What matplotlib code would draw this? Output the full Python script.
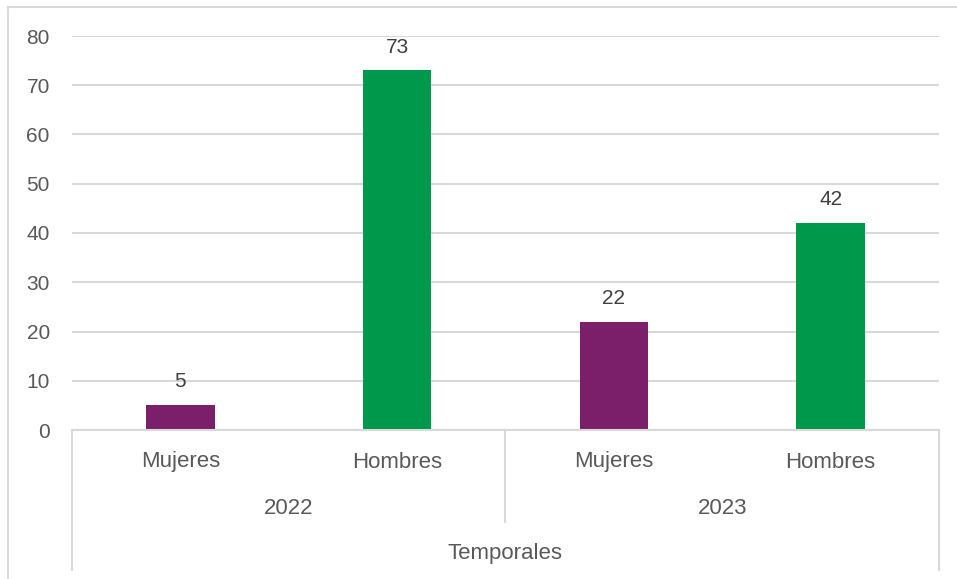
import matplotlib
matplotlib.use("Agg")
import matplotlib.pyplot as plt
from matplotlib.lines import Line2D
from matplotlib.transforms import blended_transform_factory

# Data
years = ["2022", "2023"]
genders = ["Mujeres", "Hombres"]
group_label = "Temporales"
values = [5, 73, 22, 42]
bar_colors = ["#7B1F6A", "#00984A", "#7B1F6A", "#00984A"]
y_ticks = [0, 10, 20, 30, 40, 50, 60, 70, 80]

W, H = 957, 579
fig = plt.figure(figsize=(W / 100, H / 100), dpi=100)
fig.patch.set_facecolor("white")

def fx(px):
    return px / W

def fy(py):
    return 1 - py / H

text_color = "#595959"
grid_color = "#D9D9D9"
tick_font = "Liberation Sans"
cat_font = ["Liberation Sans Narrow", "Liberation Sans"]

ax = fig.add_axes([fx(72), fy(430), fx(939) - fx(72), fy(36) - fy(430)])
x = list(range(len(values)))
ax.bar(x, values, width=0.315, color=bar_colors, zorder=3)
ax.set_xlim(-0.5, len(values) - 0.5)
ax.set_ylim(0, 80)
ax.set_yticks(y_ticks)
ax.set_yticklabels([str(t) for t in y_ticks], fontsize=15, color=text_color,
                   fontfamily=tick_font)
ax.tick_params(axis="y", length=0, pad=16)
ax.set_xticks([])
ax.grid(axis="y", color=grid_color, linewidth=1.5, zorder=0)
for s in ax.spines.values():
    s.set_visible(False)
ax.axhline(0, color=grid_color, linewidth=1.5, zorder=4, clip_on=False)

# Value labels above bars
for xi, v in zip(x, values):
    ax.annotate(str(v), (xi, v), xytext=(0, 10), textcoords="offset points",
                ha="center", va="bottom", fontsize=15, color="#404040",
                fontfamily=tick_font)

# Multi-level category axis
trans = blended_transform_factory(ax.transData, fig.transFigure)
for xv, ybot in [(-0.5, 570), (1.5, 522), (3.5, 570)]:
    fig.add_artist(Line2D([xv, xv], [fy(430), fy(ybot)], transform=trans,
                          color=grid_color, linewidth=1.5))

for i in x:
    fig.text(i, fy(462), genders[i % 2], transform=trans, ha="center", va="center",
             fontsize=16, color=text_color, fontfamily=cat_font)
for j, yr in enumerate(years):
    fig.text(2 * j + 0.5, fy(508), yr, transform=trans, ha="center", va="center",
             fontsize=16, color=text_color, fontfamily=cat_font)
fig.text(1.5, fy(553), group_label, transform=trans, ha="center", va="center",
         fontsize=16, color=text_color, fontfamily=cat_font)

# Chart border (top and left edges visible)
fig.add_artist(Line2D([fx(8), fx(8)], [0, fy(7)], transform=fig.transFigure,
                      color=grid_color, linewidth=1.5))
fig.add_artist(Line2D([fx(8), 1], [fy(7), fy(7)], transform=fig.transFigure,
                      color=grid_color, linewidth=1.5))

fig.savefig("out.png", dpi=100, facecolor="white")
